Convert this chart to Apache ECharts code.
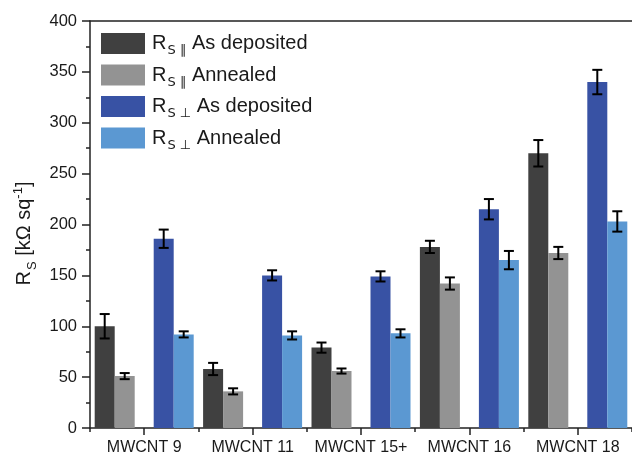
<!DOCTYPE html>
<html>
<head>
<meta charset="utf-8">
<script src="https://cdn.jsdelivr.net/npm/echarts@6/dist/echarts.min.js"></script>
<style>
html, body { margin: 0; padding: 0; background: #fff; }
#chart { width: 632px; height: 457px; }
</style>
</head>
<body>
<div id="chart"></div>
<script>
const samples = ['MWCNT 9', 'MWCNT 11', 'MWCNT 15+', 'MWCNT 16', 'MWCNT 18'];

const parDeposited = [100, 58, 79, 178, 270];
const parDepositedErr = [12, 6, 5, 6, 13];
const parAnnealed = [51, 36, 56, 142, 172];
const parAnnealedErr = [3, 3, 2.5, 6, 6];
const perpDeposited = [186, 150, 149, 215, 340];
const perpDepositedErr = [9, 5, 5, 10, 12];
const perpAnnealed = [92, 91, 93, 165, 203];
const perpAnnealedErr = [3, 4, 4, 9, 10];

const font = '"Liberation Sans", Arial, sans-serif';
const colorText = '#1a1a1a';
const colorAxis = '#222';

// legend labels: R with subscript S and the direction symbol
const legendText = {
    'par-dep': '{r|R}{s|S \u2225}{t| As deposited}',
    'par-ann': '{r|R}{s|S \u2225}{t| Annealed}',
    'perp-dep': '{r|R}{s|S \u22A5}{t| As deposited}',
    'perp-ann': '{r|R}{s|S \u22A5}{t| Annealed}'
};

function errorSeries(values, errs, offset) {
    const data = values.map(function (v, i) {
        return [i, v - errs[i], v + errs[i]];
    });
    return {
        type: 'custom',
        silent: true,
        z: 10,
        data: data,
        renderItem: function (params, api) {
            const x = api.coord([api.value(0), 0])[0] + offset;
            const yLow = api.coord([api.value(0), api.value(1)])[1];
            const yHigh = api.coord([api.value(0), api.value(2)])[1];
            const cap = 5;
            const style = { stroke: '#000', lineWidth: 2 };
            return {
                type: 'group',
                children: [
                    { type: 'line', shape: { x1: x, y1: yLow, x2: x, y2: yHigh }, style: style },
                    { type: 'line', shape: { x1: x - cap, y1: yHigh, x2: x + cap, y2: yHigh }, style: style },
                    { type: 'line', shape: { x1: x - cap, y1: yLow, x2: x + cap, y2: yLow }, style: style }
                ]
            };
        }
    };
}

function barSeries(name, values, color) {
    return {
        name: name,
        type: 'bar',
        data: values,
        barWidth: 20,
        barGap: '0%',
        itemStyle: { color: color }
    };
}

const option = {
    animation: false,
    textStyle: { fontFamily: font },
    grid: {
        left: 90,
        right: -8,
        top: 21,
        bottom: 29
    },
    legend: {
        orient: 'vertical',
        left: 101,
        top: 29.5,
        padding: 0,
        icon: 'rect',
        itemWidth: 44,
        itemHeight: 21,
        itemGap: 3.5,
        data: ['par-dep', 'par-ann', 'perp-dep', 'perp-ann'],
        formatter: function (name) {
            return legendText[name];
        },
        textStyle: {
            color: colorText,
            lineHeight: 21,
            padding: [0, 0, 0, 2],
            rich: {
                r: { fontSize: 20, fontFamily: font, color: colorText, lineHeight: 21 },
                s: { fontSize: 13, fontFamily: '"DejaVu Sans", sans-serif', color: colorText, lineHeight: 21, padding: [15, 0, 0, 1] },
                t: { fontSize: 20, fontFamily: font, color: colorText, lineHeight: 21 }
            }
        }
    },
    xAxis: [{
        type: 'category',
        data: samples,
        axisLine: { lineStyle: { color: colorAxis, width: 1.5 } },
        axisTick: { show: true, interval: 0, length: 4, lineStyle: { color: colorAxis, width: 1.5 } },
        axisLabel: { interval: 0, fontSize: 16, color: colorText, margin: 12, fontFamily: font },
        splitLine: { show: false }
    }, {
        type: 'category',
        data: samples,
        position: 'bottom',
        axisLine: { show: false },
        axisTick: { show: true, interval: 0, alignWithLabel: true, length: 7, lineStyle: { color: colorAxis, width: 1.5 } },
        axisLabel: { show: false }
    }, {
        type: 'category',
        data: samples,
        position: 'top',
        axisLine: { lineStyle: { color: colorAxis, width: 1.5 } },
        axisTick: { show: false },
        axisLabel: { show: false }
    }],
    yAxis: {
        type: 'value',
        min: 0,
        max: 400,
        interval: 50,
        name: '{r|R}{s|S}{t| [k\u03A9 sq}{u|-1}{t|]}',
        nameLocation: 'middle',
        nameRotate: 90,
        nameGap: 50,
        nameTextStyle: {
            padding: [0, 18, 0, 0],
            rich: {
                r: { fontSize: 20, fontFamily: font, color: colorText, lineHeight: 22 },
                s: { fontSize: 13, fontFamily: font, color: colorText, lineHeight: 22, padding: [15, 0, 0, 1] },
                t: { fontSize: 20, fontFamily: font, color: colorText, lineHeight: 22 },
                u: { fontSize: 13, fontFamily: font, color: colorText, lineHeight: 22, padding: [0, 0, 12, 0] }
            }
        },
        axisLine: { show: true, lineStyle: { color: colorAxis, width: 1.5 } },
        axisTick: { show: true, length: 8, lineStyle: { color: colorAxis, width: 1.5 } },
        minorTick: { show: true, splitNumber: 2, length: 4, lineStyle: { color: colorAxis, width: 1.5 } },
        axisLabel: { fontSize: 16.5, color: colorText, margin: 13, fontFamily: font },
        splitLine: { show: false }
    },
    series: [
        barSeries('par-dep', parDeposited, '#404040'),
        barSeries('par-ann', parAnnealed, '#939393'),
        {
            name: 'gap',
            type: 'bar',
            data: samples.map(function () { return '-'; }),
            barWidth: 19,
            barGap: '0%'
        },
        barSeries('perp-dep', perpDeposited, '#3852a4'),
        barSeries('perp-ann', perpAnnealed, '#5b98d2'),
        errorSeries(parDeposited, parDepositedErr, -39.5),
        errorSeries(parAnnealed, parAnnealedErr, -19.5),
        errorSeries(perpDeposited, perpDepositedErr, 19.5),
        errorSeries(perpAnnealed, perpAnnealedErr, 39.5)
    ]
};

const chart = echarts.init(document.getElementById('chart'));
chart.setOption(option);
</script>
</body>
</html>
